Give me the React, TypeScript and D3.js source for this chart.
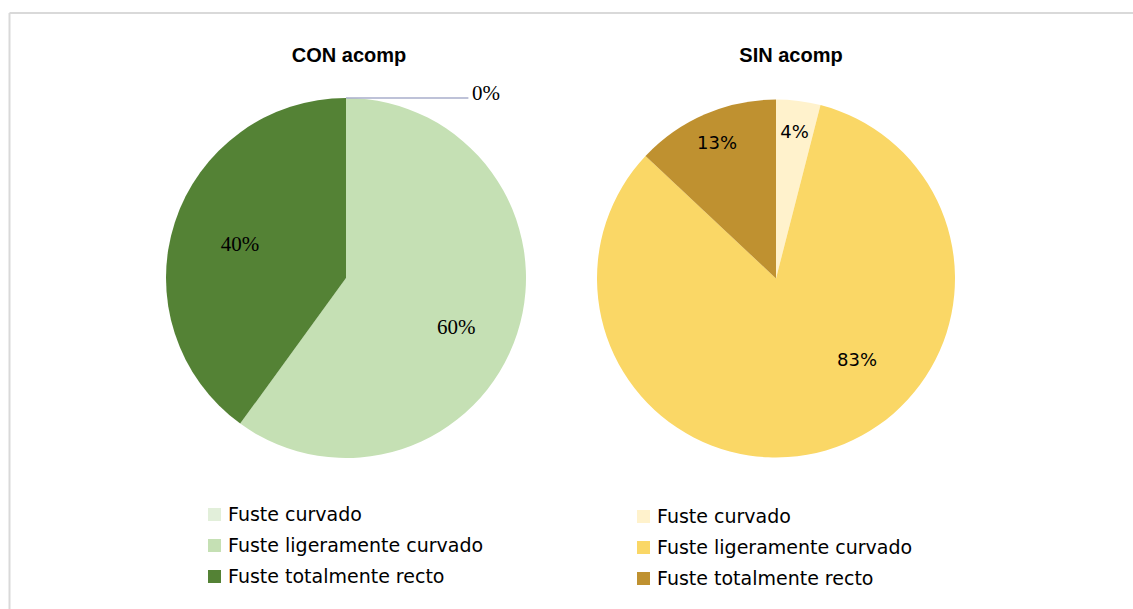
import React from 'react';
import * as d3 from 'd3';

// Categories and values
const categories = ['Fuste curvado', 'Fuste ligeramente curvado', 'Fuste totalmente recto'];
const conValues = [0, 60, 40];
const sinValues = [4, 83, 13];
const conColors = ['#E2EFDA', '#C5E0B4', '#548235'];
const sinColors = ['#FFF2CC', '#FAD766', '#BF9130'];

interface PieProps {
  title: string;
  values: number[];
  colors: string[];
  cx: number;
  cy: number;
  r: number;
  titleX: number;
  labelFont: string;
  labelSize: number;
  legendX: number;
  legendY: number;
  // Excel "best fit" nudges for big slices: index -> [angle deg, radius fraction]
  labelOverride?: Record<number, [number, number]>;
}

const PieBlock: React.FC<PieProps> = ({ title, values, colors, cx, cy, r, titleX, labelFont, labelSize, legendX, legendY, labelOverride = {} }) => {
  const pie = d3.pie<number>().sort(null).value(d => d);
  const arcs = pie(values);
  const arc = d3.arc<d3.PieArcDatum<number>>().innerRadius(0).outerRadius(r);
  const total = d3.sum(values);

  return (
    <g>
      <text x={titleX} y={62} textAnchor="middle" fontFamily="'Liberation Sans', Arial, sans-serif"
        fontWeight="bold" fontSize={20} fill="#000">{title}</text>
      <g transform={`translate(${cx},${cy})`}>
        {arcs.map((a, i) => (
          a.value > 0 ? <path key={i} d={arc(a) || ''} fill={colors[i]} /> : null
        ))}
        {arcs.map((a, i) => {
          const pct = Math.round((a.value / total) * 100) + '%';
          if (a.value === 0) {
            // zero slice: label pulled out with a leader line
            return (
              <g key={'l' + i}>
                <line x1={0} y1={-r} x2={r * 0.68} y2={-r} stroke="#A9AECB" strokeWidth={1.5} />
                <text x={r * 0.7} y={-r + 2} fontFamily={labelFont} fontSize={labelSize} fill="#000">{pct}</text>
              </g>
            );
          }
          const share = a.value / total;
          let lx: number, ly: number;
          if (labelOverride[i]) {
            const [deg, f] = labelOverride[i];
            const ang = (deg * Math.PI) / 180;
            lx = Math.sin(ang) * r * f;
            ly = -Math.cos(ang) * r * f;
          } else {
            const lr = share < 0.2 ? r * 0.83 : r * 0.64;
            const la = d3.arc<d3.PieArcDatum<number>>().innerRadius(lr).outerRadius(lr);
            [lx, ly] = la.centroid(a);
          }
          return (
            <text key={'l' + i} x={lx} y={ly} textAnchor="middle" dominantBaseline="central"
              fontFamily={labelFont} fontSize={labelSize} fill="#000">{pct}</text>
          );
        })}
      </g>
      <g transform={`translate(${legendX},${legendY})`}>
        {categories.map((c, i) => (
          <g key={c} transform={`translate(0,${i * 31})`}>
            <rect x={0} y={-13} width={13} height={13} fill={colors[i]} />
            <text x={20} y={0} fontFamily="'DejaVu Sans', Verdana, sans-serif" fontSize={19} fill="#000">{c}</text>
          </g>
        ))}
      </g>
    </g>
  );
};

const App: React.FC = () => {
  return (
    <svg width={1133} height={609} style={{ position: 'absolute', left: 0, top: 0, background: '#fff' }}>
      <rect x={0} y={0} width={1133} height={609} fill="#fff" />
      <line x1={9.5} y1={13} x2={1133} y2={13} stroke="#D9D9D9" strokeWidth={2} />
      <line x1={9.5} y1={13} x2={9.5} y2={609} stroke="#D9D9D9" strokeWidth={2} />
      <PieBlock title="CON acomp" values={conValues} colors={conColors} cx={346} cy={278} r={180}
        titleX={349} labelFont="'Liberation Serif', 'Times New Roman', serif" labelSize={21}
        legendX={208} legendY={521} labelOverride={{ 1: [114, 0.67], 2: [288, 0.62] }} />
      <PieBlock title="SIN acomp" values={sinValues} colors={sinColors} cx={776} cy={278.5} r={179}
        titleX={791} labelFont="'DejaVu Sans', Verdana, sans-serif" labelSize={18}
        legendX={637} legendY={523} labelOverride={{ 1: [135, 0.64] }} />
    </svg>
  );
};

export default App;
